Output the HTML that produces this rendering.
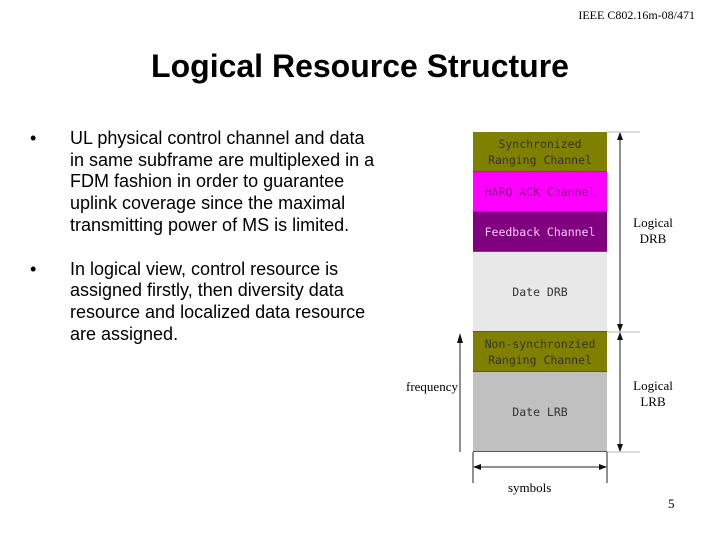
<!DOCTYPE html>
<html><head><style>
body{margin:0;width:720px;height:540px;background:#fff;position:relative;overflow:hidden;font-family:"Liberation Sans",sans-serif}
.a{position:absolute}
.hdr{left:540px;top:8px;width:155px;text-align:right;font-family:"Liberation Serif",serif;font-size:12px}
.title{left:0;width:720px;top:48px;text-align:center;font-size:32px;font-weight:bold}
ul{position:absolute;left:30px;top:128px;width:380px;margin:0;padding:0;list-style:none;font-size:18px;line-height:21.7px}
li{position:relative;padding-left:40px}
li:before{content:"•";position:absolute;left:0}
.c{position:absolute;left:473px;width:134px;text-align:center;font-family:"DejaVu Sans Mono","Liberation Mono",monospace;font-size:11.5px;line-height:16px;display:flex;align-items:center;justify-content:center;box-sizing:border-box;border-bottom:1px solid #555}
.s{font-family:"Liberation Serif",serif;font-size:13px;text-align:center}
</style></head><body>
<div class="a hdr">IEEE C802.16m-08/471</div>
<div class="a title">Logical Resource Structure</div>
<ul>
<li>UL physical control channel and data<br>in same subframe are multiplexed in a<br>FDM fashion in order to guarantee<br>uplink coverage since the maximal<br>transmitting power of MS is limited.</li>
<li style="margin-top:22px">In logical view, control resource is<br>assigned firstly, then diversity data<br>resource and localized data resource<br>are assigned.</li>
</ul>
<div class="c" style="top:132px;height:40px;background:#808000;color:#333">Synchronized<br>Ranging Channel</div>
<div class="c" style="top:172px;height:40px;background:#ff00ff;color:#900090">HARQ ACK Channel</div>
<div class="c" style="top:212px;height:40px;background:#800080;color:#f8c8f8">Feedback Channel</div>
<div class="c" style="top:252px;height:80px;background:#e8e8e8;color:#333">Date DRB</div>
<div class="c" style="top:332px;height:40px;background:#808000;color:#333">Non-synchronzied<br>Ranging Channel</div>
<div class="c" style="top:372px;height:80px;background:#c0c0c0;color:#333">Date LRB</div>
<svg class="a" style="left:0;top:0" width="720" height="540">
<g stroke="#222" stroke-width="1" fill="none">
<line x1="607" y1="132" x2="640" y2="132" stroke="#bbb"/>
<line x1="607" y1="332" x2="640" y2="332" stroke="#bbb"/>
<line x1="607" y1="452" x2="640" y2="452" stroke="#bbb"/>
<line x1="620" y1="136" x2="620" y2="328"/>
<line x1="620" y1="336" x2="620" y2="448"/>
<line x1="460" y1="340" x2="460" y2="452"/>
<line x1="473" y1="452" x2="473" y2="483"/>
<line x1="607" y1="452" x2="607" y2="483"/>
<line x1="477" y1="467" x2="603" y2="467"/>
</g>
<g fill="#111">
<polygon points="620,132 617,140 623,140"/>
<polygon points="620,332 617,324 623,324"/>
<polygon points="620,332 617,340 623,340"/>
<polygon points="620,452 617,444 623,444"/>
<polygon points="460,333 457,343 463,343"/>
<polygon points="473,467 481,464 481,470"/>
<polygon points="607,467 599,464 599,470"/>
</g>
</svg>
<div class="a s" style="left:628px;top:215px;width:50px;line-height:16px">Logical<br>DRB</div>
<div class="a s" style="left:628px;top:378px;width:50px;line-height:16px">Logical<br>LRB</div>
<div class="a s" style="left:406px;top:379px">frequency</div>
<div class="a s" style="left:508px;top:480px">symbols</div>
<div class="a s" style="left:668px;top:496px;font-size:13px">5</div>
</body></html>
